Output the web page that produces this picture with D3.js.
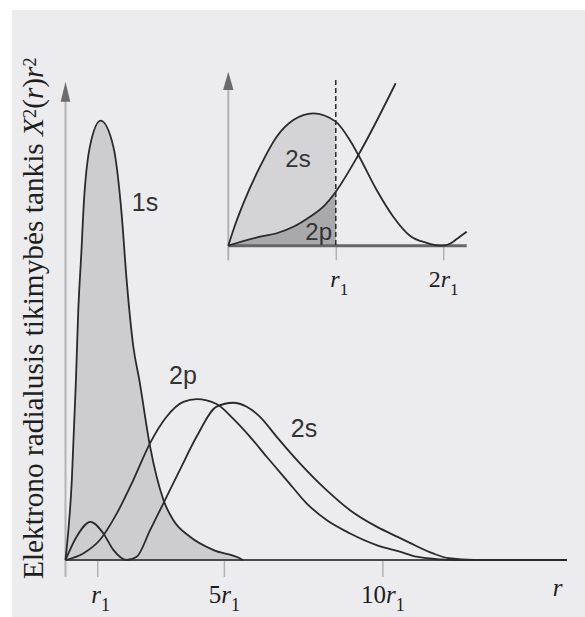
<!DOCTYPE html>
<html>
<head>
<meta charset="utf-8">
<script src="https://cdn.jsdelivr.net/npm/d3@7"></script>
<style>
  body { margin: 0; background: #fff; }
  svg { display: block; }
</style>
</head>
<body>
<div id="chart"></div>
<script>
// main plot: radius in units of r1, density in relative units (1s peak = 100)
var r1s = [0, 0.2, 0.33, 0.4, 0.51, 0.56, 0.77, 1.11, 1.51, 1.77, 1.93, 2.14, 2.33, 2.67, 3.09, 3.4, 3.93, 4.66, 5.5, 5.6];
var p1s = [0, 18.2, 41, 56.2, 71.3, 78.9, 94.1, 100, 94.1, 78.9, 63.7, 48.6, 41, 25.8, 13.7, 9.1, 5.3, 2.3, 0.4, 0];

var r2s = [0, 0.35, 0.79, 1.19, 1.51, 1.93, 2.25, 2.67, 3.09, 3.61, 4.14, 4.77, 5.29, 5.72, 6.14, 6.66, 7.4, 8.24, 8.97, 9.82, 10.5, 10.87, 11.6, 12.1, 12.9, 15.82];
var p2s = [0, 5.3, 8.7, 6.1, 2.3, 0, 0.75, 6.8, 12.9, 20.5, 28.1, 34.9, 35.8, 34.9, 32.6, 28.1, 22.0, 15.9, 11.4, 7.6, 5.2, 3.9, 1.5, 0.4, 0, 0];

var r2p = [0, 0.56, 1.09, 1.62, 2.14, 2.67, 3.19, 3.72, 4.14, 4.77, 5.29, 5.82, 6.35, 6.98, 7.61, 8.24, 8.97, 9.82, 10.55, 11.08, 11.8, 12.5, 15.82];
var p2p = [0, 1.5, 4.6, 10.6, 18.2, 26.6, 32.6, 36.0, 36.6, 35.5, 32.2, 28.1, 23.5, 18.2, 12.9, 9.1, 6.1, 3.4, 1.9, 0.75, 0.15, 0, 0];

// inset: close-up near the origin (2s peak = 1)
var rIn2s = [0, 0.047, 0.14, 0.295, 0.45, 0.605, 0.79, 1.0, 1.13, 1.21, 1.38, 1.535, 1.69, 1.846, 1.93, 2.0, 2.07, 2.125, 2.218];
var pIn2s = [0, 0.119, 0.32, 0.597, 0.823, 0.949, 1.0, 0.937, 0.798, 0.685, 0.421, 0.219, 0.075, 0.022, 0.005, 0, 0.018, 0.05, 0.106];

var rIn2p = [0, 0.295, 0.45, 0.605, 0.76, 0.884, 1.0, 1.21, 1.557];
var pIn2p = [0, 0.068, 0.094, 0.143, 0.219, 0.295, 0.408, 0.685, 1.227];

// tick labels: prefix + italic r + subscript 1
var mainTicks = [1, 5, 10];
var mainTickPre = ["", "5", "10"];
var insetTicks = [1, 2];
var insetTickPre = ["", "2"];

var yLabel = "Elektrono radialusis tikimybės tankis ";

var W = 585, H = 617;
var lineCol = "#2a2a2a", axisCol = "#b3b3b5", arrowCol = "#6b6b6d";

function zip(a, b) { return a.map(function(d, i) { return [d, b[i]]; }); }

var svg = d3.select("#chart").append("svg")
    .attr("width", W)
    .attr("height", H);

// panel background
svg.append("rect")
    .attr("x", 12).attr("y", 10)
    .attr("width", W - 12).attr("height", H - 10)
    .attr("fill", "#ececee");

// ---------- main plot ----------
var x = d3.scaleLinear().domain([0, 15.82]).range([65.5, 566.7]);
var y = d3.scaleLinear().domain([0, 100]).range([560, 120.7]);

var line = d3.line()
    .x(function(d) { return x(d[0]); })
    .y(function(d) { return y(d[1]); })
    .curve(d3.curveMonotoneX);

var area = d3.area()
    .x(function(d) { return x(d[0]); })
    .y0(y(0))
    .y1(function(d) { return y(d[1]); })
    .curve(d3.curveMonotoneX);

// y axis with arrow
svg.append("line")
    .attr("x1", x(0)).attr("x2", x(0))
    .attr("y1", y(0) + 17).attr("y2", 100)
    .attr("stroke", axisCol).attr("stroke-width", 2);
svg.append("path")
    .attr("d", "M" + (x(0) - 4.8) + ",101.7L" + x(0) + ",81.7L" + (x(0) + 4.8) + ",101.7Z")
    .attr("fill", arrowCol);

// x axis ticks
var xAxis = svg.append("g")
    .attr("transform", "translate(0," + y(0) + ")")
    .call(d3.axisBottom(x).tickValues(mainTicks).tickSize(17).tickSizeOuter(0).tickFormat(""));
xAxis.select(".domain").remove();
xAxis.selectAll(".tick line").attr("stroke", axisCol).attr("stroke-width", 1.5);

function tickLabel(sel, pre, yPos, size) {
  sel.each(function(d, i) {
    var t = d3.select(this).append("text")
        .attr("y", yPos)
        .attr("x", i === 0 ? 3 : 0)
        .attr("text-anchor", "middle")
        .attr("fill", "#1e1e1e")
        .style("font-family", "'Liberation Serif', serif")
        .style("font-size", size + "px");
    if (pre[i]) t.append("tspan").text(pre[i]);
    t.append("tspan").style("font-style", "italic").text("r");
    t.append("tspan").attr("dy", 8).style("font-size", (size * 0.72) + "px").text("1");
  });
}
tickLabel(xAxis.selectAll(".tick"), mainTickPre, 43, 25);

// 1s filled
svg.append("path")
    .datum(zip(r1s, p1s))
    .attr("d", area)
    .attr("fill", "#cdcdd0");

// baseline
svg.append("line")
    .attr("x1", x(0)).attr("x2", x(15.82))
    .attr("y1", y(0)).attr("y2", y(0))
    .attr("stroke", "#4a4a4c").attr("stroke-width", 2.2);

[zip(r1s, p1s), zip(r2s, p2s), zip(r2p, p2p)].forEach(function(s) {
  svg.append("path")
      .datum(s)
      .attr("d", line)
      .attr("fill", "none")
      .attr("stroke", lineCol)
      .attr("stroke-width", 1.8);
});

// curve labels
function label(txt, cx, by, size) {
  svg.append("text")
      .attr("x", cx).attr("y", by)
      .attr("text-anchor", "middle")
      .attr("fill", "#333")
      .style("font-family", "'Liberation Sans', Arial, sans-serif")
      .style("font-size", size + "px")
      .text(txt);
}
label("1s", 145, 210.5, 25);
label("2p", 183, 384, 25);
label("2s", 304, 437, 25);

// "r" axis name
svg.append("text")
    .attr("x", 557.5).attr("y", 596)
    .attr("text-anchor", "middle")
    .attr("fill", "#1e1e1e")
    .style("font-family", "'Liberation Serif', serif")
    .style("font-style", "italic")
    .style("font-size", "25px")
    .text("r");

// y label (rotated)
var yl = svg.append("text")
    .attr("transform", "translate(43,579) rotate(-90)")
    .attr("fill", "#1e1e1e")
    .style("font-family", "'Liberation Serif', 'Times New Roman', serif")
    .style("font-size", "25px");
yl.append("tspan").text(yLabel);
yl.append("tspan").style("font-style", "italic").text("X");
yl.append("tspan").attr("dy", "-0.4em").style("font-size", "0.62em").text("2");
yl.append("tspan").attr("dy", "0.248em").text("(");
yl.append("tspan").style("font-style", "italic").text("r");
yl.append("tspan").text(")");
yl.append("tspan").style("font-style", "italic").text("r");
yl.append("tspan").attr("dy", "-0.4em").style("font-size", "0.62em").text("2");
var len = yl.node().getComputedTextLength();
yl.style("font-size", (25 * 522 / len) + "px");

// ---------- inset ----------
var xi = d3.scaleLinear().domain([0, 2.218]).range([228.3, 466.7]);
var yi = d3.scaleLinear().domain([0, 1]).range([245.7, 113.3]);

var lineIn = d3.line()
    .x(function(d) { return xi(d[0]); })
    .y(function(d) { return yi(d[1]); })
    .curve(d3.curveMonotoneX);
var areaIn = d3.area()
    .x(function(d) { return xi(d[0]); })
    .y0(yi(0))
    .y1(function(d) { return yi(d[1]); })
    .curve(d3.curveMonotoneX);

svg.append("clipPath").attr("id", "clipIn")
  .append("rect")
    .attr("x", xi(0)).attr("y", 60)
    .attr("width", xi(1) - xi(0)).attr("height", yi(0) - 60);

svg.append("line")
    .attr("x1", xi(0)).attr("x2", xi(0))
    .attr("y1", yi(0) + 14.5).attr("y2", 89)
    .attr("stroke", axisCol).attr("stroke-width", 2);
svg.append("path")
    .attr("d", "M" + (xi(0) - 5.2) + ",90L" + xi(0) + ",71.7L" + (xi(0) + 5.2) + ",90Z")
    .attr("fill", arrowCol);

var xiAxis = svg.append("g")
    .attr("transform", "translate(0," + yi(0) + ")")
    .call(d3.axisBottom(xi).tickValues(insetTicks).tickSize(14.5).tickSizeOuter(0).tickFormat(""));
xiAxis.select(".domain").remove();
xiAxis.selectAll(".tick line").attr("stroke", axisCol).attr("stroke-width", 1.5);
tickLabel(xiAxis.selectAll(".tick"), insetTickPre, 41.3, 24);

svg.append("path")
    .datum(zip(rIn2s, pIn2s))
    .attr("d", areaIn)
    .attr("clip-path", "url(#clipIn)")
    .attr("fill", "#d4d4d6");
svg.append("path")
    .datum(zip(rIn2p, pIn2p))
    .attr("d", areaIn)
    .attr("clip-path", "url(#clipIn)")
    .attr("fill", "#a9a9ab");

svg.append("line")
    .attr("x1", xi(0)).attr("x2", xi(2.218))
    .attr("y1", yi(0)).attr("y2", yi(0))
    .attr("stroke", "#666668").attr("stroke-width", 3);

svg.append("line")
    .attr("x1", xi(1)).attr("x2", xi(1))
    .attr("y1", 80).attr("y2", yi(0))
    .attr("stroke", lineCol).attr("stroke-width", 1.5)
    .attr("stroke-dasharray", "5,3");

[zip(rIn2s, pIn2s), zip(rIn2p, pIn2p)].forEach(function(s) {
  svg.append("path")
      .datum(s)
      .attr("d", lineIn)
      .attr("fill", "none")
      .attr("stroke", lineCol)
      .attr("stroke-width", 1.8);
});

label("2s", 298, 167, 24);
label("2p", 318.7, 240, 24);
</script>
</body>
</html>
